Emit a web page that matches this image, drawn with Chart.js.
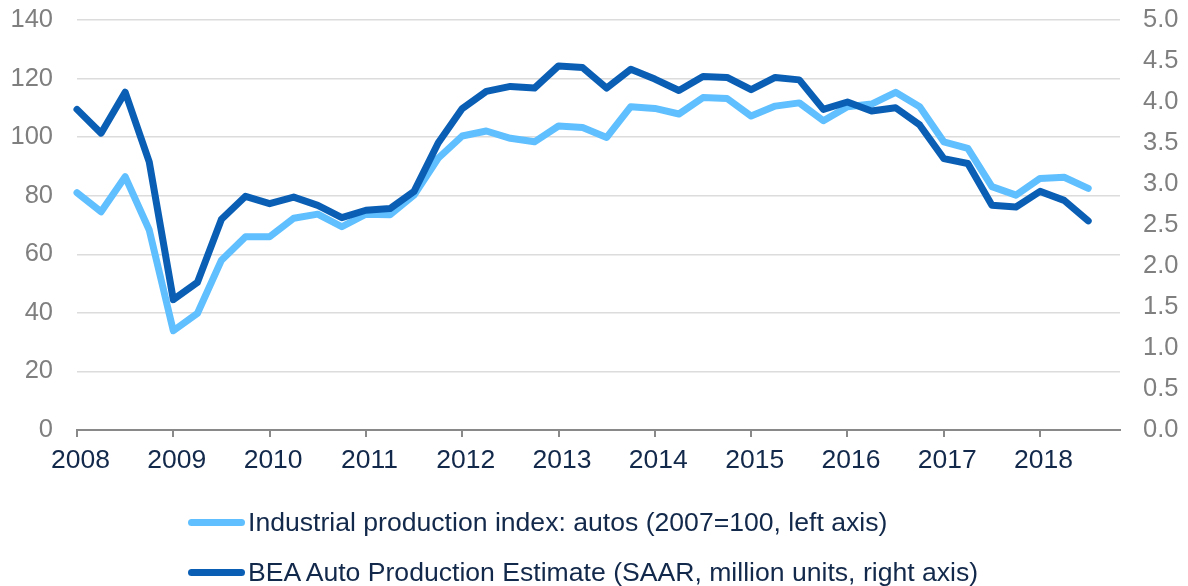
<!DOCTYPE html>
<html>
<head>
<meta charset="utf-8">
<script src="https://cdn.jsdelivr.net/npm/chart.js@4/dist/chart.umd.min.js"></script>
<style>
  html, body { margin: 0; padding: 0; background: #fff; }
  .wrap { position: relative; width: 1188px; height: 586px; }
  #autoChart { position: absolute; left: 0; top: 0; }
  .legend { position: absolute; left: 188px; top: 497px; font-family: "Liberation Sans", Arial, sans-serif; font-size: 26.6px; color: #13294b; }
  .legend-row { display: flex; align-items: center; height: 50px; }
  .legend-line { width: 57px; height: 7px; border-radius: 3.5px; margin-right: 3px; }
  .legend-text { line-height: 1; white-space: nowrap; }
</style>
</head>
<body>
<div class="wrap">
  <canvas id="autoChart" width="1188" height="586"></canvas>
  <div class="legend" id="legend"></div>
</div>
<script>
// quarters, 2008Q1 .. 2018Q3
const quarters = [
  "2008Q1", "2008Q2", "2008Q3", "2008Q4", "2009Q1", "2009Q2", "2009Q3", "2009Q4",
  "2010Q1", "2010Q2", "2010Q3", "2010Q4", "2011Q1", "2011Q2", "2011Q3", "2011Q4",
  "2012Q1", "2012Q2", "2012Q3", "2012Q4", "2013Q1", "2013Q2", "2013Q3", "2013Q4",
  "2014Q1", "2014Q2", "2014Q3", "2014Q4", "2015Q1", "2015Q2", "2015Q3", "2015Q4",
  "2016Q1", "2016Q2", "2016Q3", "2016Q4", "2017Q1", "2017Q2", "2017Q3", "2017Q4",
  "2018Q1", "2018Q2", "2018Q3"
];

// Industrial production index: autos (2007=100), left axis
const ipAutos = [
  81.0, 74.5, 86.5, 68.3, 33.9, 39.8, 58.0, 66.0,
  66.0, 72.3, 73.7, 69.4, 73.7, 73.5, 80.2, 92.8,
  100.4, 102.1, 99.6, 98.4, 103.8, 103.3, 99.9, 110.4,
  109.8, 107.9, 113.5, 113.2, 107.2, 110.6, 111.7, 105.6,
  110.4, 111.3, 115.3, 110.4, 98.4, 96.2, 83.1, 80.2,
  85.9, 86.3, 82.5
];

// BEA auto production estimate (SAAR, million units), right axis
const beaAutos = [
  3.91, 3.62, 4.12, 3.27, 1.59, 1.80, 2.57, 2.85,
  2.76, 2.84, 2.74, 2.59, 2.68, 2.70, 2.91, 3.50,
  3.92, 4.13, 4.19, 4.17, 4.44, 4.42, 4.17, 4.40,
  4.28, 4.14, 4.31, 4.30, 4.15, 4.30, 4.27, 3.91,
  4.00, 3.89, 3.93, 3.72, 3.31, 3.25, 2.74, 2.72,
  2.91, 2.80, 2.55
];

const seriesNames = [
  "Industrial production index: autos (2007=100, left axis)",
  "BEA Auto Production Estimate (SAAR, million units, right axis)"
];
const seriesColors = ["#5fbfff", "#0a5fb5"];

const leftTicks = [0, 20, 40, 60, 80, 100, 120, 140];
const rightTicks = [0, 0.5, 1.0, 1.5, 2.0, 2.5, 3.0, 3.5, 4.0, 4.5, 5.0];
const yearTicks = [2008, 2009, 2010, 2011, 2012, 2013, 2014, 2015, 2016, 2017, 2018];

// quarter label -> position on a yearly axis
const qToX = (q) => Number(q.slice(0, 4)) + (Number(q.slice(5)) - 1) / 4;
const toPoints = (vals) => vals.map((v, i) => ({ x: qToX(quarters[i]), y: v }));

const fontFamily = "'Liberation Sans', Arial, sans-serif";

// fixed side widths, no extra label overflow padding
const fixWidth = (w) => (scale) => {
  scale.width = w;
  scale.paddingTop = 0;
  scale.paddingBottom = 0;
};

const ctx = document.getElementById("autoChart").getContext("2d");
new Chart(ctx, {
  type: "line",
  data: {
    datasets: [
      {
        label: seriesNames[0],
        data: toPoints(ipAutos),
        yAxisID: "yLeft",
        borderColor: seriesColors[0],
        backgroundColor: seriesColors[0],
        clip: false,
        order: 1,
      },
      {
        label: seriesNames[1],
        data: toPoints(beaAutos),
        yAxisID: "yRight",
        borderColor: seriesColors[1],
        backgroundColor: seriesColors[1],
        clip: false,
        order: 0,
      },
    ],
  },
  options: {
    responsive: false,
    animation: false,
    devicePixelRatio: 1,
    layout: { padding: { top: 20, bottom: 106, left: 0, right: 0 } },
    elements: {
      line: { borderWidth: 7, tension: 0, borderCapStyle: "round", borderJoinStyle: "round", fill: false },
      point: { radius: 0, hoverRadius: 0 },
    },
    plugins: {
      legend: { display: false },
      tooltip: { enabled: false },
    },
    scales: {
      x: {
        type: "linear",
        min: yearTicks[0],
        max: 2018.83,
        afterBuildTicks: (scale) => { scale.ticks = yearTicks.map((v) => ({ value: v })); },
        afterFit: (scale) => { scale.height = 50; },
        grid: { drawOnChartArea: false, drawTicks: true, tickLength: 7, color: "#898989", lineWidth: 2 },
        border: { display: true, color: "#898989", width: 2 },
        ticks: {
          font: { family: fontFamily, size: 26.5 },
          color: "#13294b",
          padding: 8,
          labelOffset: 3.5,
          maxRotation: 0,
          autoSkip: false,
          callback: (v) => String(v),
        },
      },
      yLeft: {
        type: "linear",
        position: "left",
        min: 0,
        max: 140,
        afterBuildTicks: (scale) => { scale.ticks = leftTicks.map((v) => ({ value: v })); },
        afterFit: fixWidth(77),
        grid: {
          drawTicks: false,
          lineWidth: 1.5,
          color: (c) => (c.tick && c.tick.value === 0 ? "rgba(0,0,0,0)" : "#dcdcdc"),
        },
        border: { display: false },
        ticks: { font: { family: fontFamily, size: 25.5 }, color: "#7f7f7f", padding: 24 },
      },
      yRight: {
        type: "linear",
        position: "right",
        min: 0,
        max: 5,
        afterBuildTicks: (scale) => { scale.ticks = rightTicks.map((v) => ({ value: v })); },
        afterFit: fixWidth(68),
        grid: { drawOnChartArea: false, drawTicks: false },
        border: { display: false },
        ticks: { font: { family: fontFamily, size: 25.5 }, color: "#7f7f7f", padding: 23, callback: (v) => v.toFixed(1) },
      },
    },
  },
});

// legend
const legend = document.getElementById("legend");
seriesNames.forEach((name, i) => {
  const row = document.createElement("div");
  row.className = "legend-row";
  row.innerHTML = '<div class="legend-line" style="background:' + seriesColors[i] + '"></div>' +
    '<span class="legend-text">' + name + "</span>";
  legend.appendChild(row);
});
</script>
</body>
</html>
